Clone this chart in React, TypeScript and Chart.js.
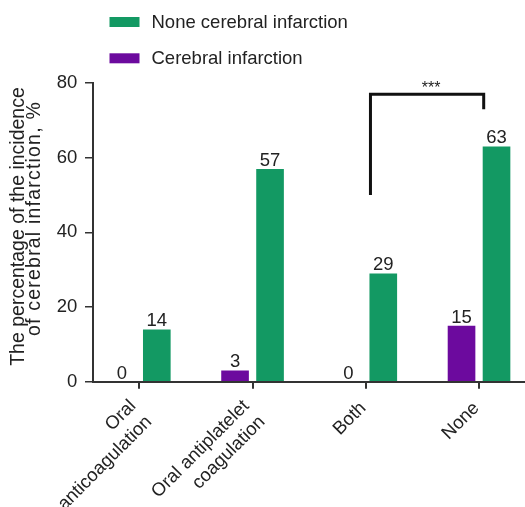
import React, { useEffect, useRef } from 'react';
import { Chart, registerables } from 'chart.js';

Chart.register(...registerables);

// ---- data ----
const categories: (string | string[])[] = [
  ['Oral', 'anticoagulation'],
  ['Oral antiplatelet', 'coagulation'],
  'Both',
  'None',
];
const cerebralInfarction = [0, 3, 0, 15];
const noneCerebralInfarction = [14, 57, 29, 63];
const yTicks = [0, 20, 40, 60, 80];
const seriesNames = ['Cerebral infarction', 'None cerebral infarction'];
const seriesColors = ['#6c0a9e', '#139963'];
const yTitle = ['The percentage of the incidence', 'of cerebral infarction, %'];
// significance bracket: between green bars of "Both" and "None"
const bracketFrom = 2;
const bracketTo = 3;
const bracketValues = [50, 77, 73]; // left end, top, right end (y units)
const bracketText = '***';

const FONT = "'Liberation Sans', Arial, Helvetica, sans-serif";
const TEXT = '#222222';
const AXIS = '#333333';

const W = 525;
const H = 507;

const valueLabels = {
  id: 'valueLabels',
  afterDatasetsDraw(chart: any) {
    const ctx = chart.ctx;
    ctx.save();
    ctx.font = `18.5px ${FONT}`;
    ctx.fillStyle = TEXT;
    ctx.textAlign = 'center';
    ctx.textBaseline = 'alphabetic';
    chart.data.datasets.forEach((ds: any, di: number) => {
      const meta = chart.getDatasetMeta(di);
      meta.data.forEach((el: any, i: number) => {
        const p = el.getProps(['x', 'y'], true);
        ctx.fillText(String(ds.data[i].y), p.x, p.y - 3);
      });
    });
    ctx.restore();
  },
};

const bracketPlugin = {
  id: 'bracket',
  afterDatasetsDraw(chart: any) {
    const ctx = chart.ctx;
    const meta = chart.getDatasetMeta(1);
    const y = chart.scales.y;
    const a = meta.data[bracketFrom].getProps(['x', 'width'], true);
    const b = meta.data[bracketTo].getProps(['x', 'width'], true);
    const x1 = a.x - a.width / 2 + 1;
    const x2 = b.x - b.width / 2 + 1;
    const yl = y.getPixelForValue(bracketValues[0]);
    const yt = y.getPixelForValue(bracketValues[1]);
    const yr = y.getPixelForValue(bracketValues[2]);
    ctx.save();
    ctx.strokeStyle = '#111111';
    ctx.lineWidth = 3;
    ctx.lineJoin = 'miter';
    ctx.beginPath();
    ctx.moveTo(x1, yl);
    ctx.lineTo(x1, yt);
    ctx.lineTo(x2, yt);
    ctx.lineTo(x2, yr);
    ctx.stroke();
    ctx.font = `16px ${FONT}`;
    ctx.fillStyle = TEXT;
    ctx.textAlign = 'center';
    ctx.textBaseline = 'alphabetic';
    ctx.fillText(bracketText, (x1 + x2) / 2 + 4, yt - 1.5);
    ctx.restore();
  },
};

const legendPlugin = {
  id: 'customLegend',
  afterDraw(chart: any) {
    const ctx = chart.ctx;
    const order = [1, 0];
    const rowY = [22, 58.3];
    ctx.save();
    ctx.font = `18.5px ${FONT}`;
    ctx.textAlign = 'left';
    ctx.textBaseline = 'middle';
    order.forEach((di, r) => {
      const ds = chart.data.datasets[di];
      ctx.fillStyle = ds.backgroundColor;
      ctx.fillRect(109.5, rowY[r] - 5, 30, 10);
      ctx.fillStyle = TEXT;
      ctx.fillText(ds.label, 151.5, rowY[r] + 1);
    });
    ctx.restore();
  },
};

// y-axis title, drawn rotated left of the axis
const yTitlePlugin = {
  id: 'yTitle',
  afterDraw(chart: any) {
    const ctx = chart.ctx;
    const xs = [19, 35];
    const ys = [226.5, 218.5];
    const spacing = ['0px', '1.2px'];
    ctx.save();
    ctx.font = `19.5px ${FONT}`;
    ctx.fillStyle = TEXT;
    ctx.textAlign = 'center';
    ctx.textBaseline = 'middle';
    yTitle.forEach((line, i) => {
      ctx.save();
      (ctx as any).letterSpacing = spacing[i];
      ctx.translate(xs[i], ys[i]);
      ctx.rotate(-Math.PI / 2);
      ctx.fillText(line, 0, 0);
      ctx.restore();
    });
    ctx.restore();
  },
};

export default function App() {
  const ref = useRef<HTMLCanvasElement>(null);
  useEffect(() => {
    const canvas = ref.current!;
    Chart.defaults.font.family = FONT;
    const chart = new Chart(canvas, {
      type: 'bar',
      data: {
        datasets: [
          {
            label: seriesNames[0],
            data: cerebralInfarction.map((v, i) => ({ x: i, y: v })),
            backgroundColor: seriesColors[0],
          },
          {
            label: seriesNames[1],
            data: noneCerebralInfarction.map((v, i) => ({ x: i, y: v })),
            backgroundColor: seriesColors[1],
          },
        ] as any,
      },
      options: {
        responsive: false,
        animation: false,
        devicePixelRatio: 1,
        layout: { padding: { top: 83, left: 0, right: 0, bottom: 0 } },
        datasets: { bar: { categoryPercentage: 0.618, barPercentage: 0.79 } } as any,
        scales: {
          x: {
            type: 'linear',
            min: -0.409,
            max: 3.406,
            offset: false,
            afterBuildTicks: (s: any) => {
              s.ticks = categories.map((_, i) => ({ value: i }));
            },
            afterFit: (s: any) => {
              s.height = H - 381.7;
            },
            grid: {
              display: true,
              drawOnChartArea: false,
              drawTicks: true,
              tickLength: 7,
              offset: false,
              color: AXIS,
              lineWidth: 2,
            },
            border: { display: true, color: AXIS, width: 2 },
            ticks: {
              autoSkip: false,
              maxRotation: 45,
              minRotation: 45,
              padding: 2.9,
              labelOffset: -2.6,
              color: TEXT,
              font: (c: any) => ({
                size: 18.5,
                lineHeight: Array.isArray(categories[c.index]) ? 1.22 : 2.09,
              }),
              callback: (v: any) => {
                const c = categories[v as number];
                if (c === undefined) return '';
                return (Array.isArray(c) ? c.map((l) => l + ' ') : c) as any;
              },
            },
          } as any,
          y: {
            min: 0,
            max: 80,
            afterBuildTicks: (s: any) => {
              s.ticks = yTicks.map((v) => ({ value: v }));
            },
            afterFit: (s: any) => {
              s.width = 93;
            },
            grid: {
              drawOnChartArea: false,
              drawTicks: true,
              tickLength: 8,
              color: AXIS,
              lineWidth: 1.5,
            },
            border: { display: true, color: AXIS, width: 2 },
            ticks: { padding: 7.7, color: TEXT, font: { size: 18.5 } },
          } as any,
        },
        plugins: {
          legend: { display: false },
          tooltip: { enabled: false },
        },
      },
      plugins: [valueLabels, bracketPlugin, legendPlugin, yTitlePlugin],
    });
    return () => chart.destroy();
  }, []);

  return (
    <canvas
      ref={ref}
      width={W}
      height={H}
      style={{ position: 'absolute', left: 0, top: 0, width: W, height: H }}
    />
  );
}
